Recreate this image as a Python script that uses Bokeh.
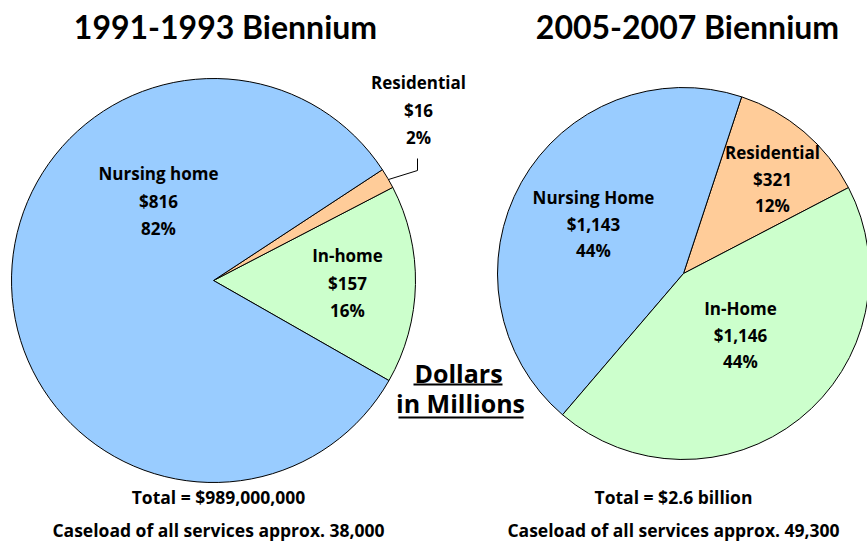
import math
from bokeh.plotting import figure
from bokeh.models import Range1d, ColumnDataSource
from bokeh.core.properties import value
from bokeh.embed import file_html
from bokeh.resources import INLINE

W, H = 867, 541
FONT = "Open Sans"
TFONT = "Lato"

# ---- data ----
cats_1991 = ["In-home", "Residential", "Nursing home"]
vals_1991 = [157, 16, 816]
pct_1991 = ["16%", "2%", "82%"]
cats_2005 = ["Residential", "Nursing Home", "In-Home"]
vals_2005 = [321, 1143, 1146]
pct_2005 = ["12%", "44%", "44%"]
colors = {"Nursing": "#99CCFF", "Residential": "#FFCC99", "In": "#CCFFCC"}

titles = ["1991-1993 Biennium", "2005-2007 Biennium"]
totals = ["Total = $989,000,000", "Total = $2.6 billion"]
caseloads = ["Caseload of all services approx. 38,000",
             "Caseload of all services approx. 49,300"]


def Y(py):
    return H - py


p = figure(width=W, height=H, output_backend="svg", toolbar_location=None,
           x_range=Range1d(0, W), y_range=Range1d(0, H), min_border=0)
p.axis.visible = False
p.grid.visible = False
p.outline_line_color = None
p.background_fill_color = "white"
p.border_fill_color = "white"


def color_for(c):
    for k, v in colors.items():
        if c.startswith(k):
            return v
    return "#cccccc"


def draw_pie(cx, cy, r, cats, vals, start_deg):
    total = float(sum(vals))
    starts, ends = [], []
    a = math.radians(start_deg)
    for v in vals:
        starts.append(a)
        a += v / total * 2 * math.pi
        ends.append(a)
    src = ColumnDataSource(dict(x=[cx] * len(vals), y=[Y(cy)] * len(vals),
                                start=starts, end=ends,
                                color=[color_for(c) for c in cats]))
    p.wedge(x="x", y="y", radius=r, start_angle="start", end_angle="end",
            fill_color="color", line_color="black", line_width=1, source=src)


# left pie: In-home starts at about -29.7 degrees
draw_pie(213, 280, 202, cats_1991, vals_1991, -29.7)
# right pie: Residential starts at about 27.5 degrees
draw_pie(683, 273, 186, cats_2005, vals_2005, 27.5)

# leader line for left Residential
p.line(x=[388, 417, 417], y=[Y(179), Y(170), Y(158)], line_color="black", line_width=1)


def txt(x, y, s, size, font=FONT):
    p.text(x=[x], y=[Y(y)], text=[s], text_font=value(font), text_font_size=f"{size}px",
           text_font_style="bold", text_align="center", text_baseline="middle",
           text_color="black")


# titles
txt(225, 26, titles[0], 32, TFONT)
txt(687, 26, titles[1], 32, TFONT)


def block(x, y0, lines, size=17, gap=27.5):
    for i, s in enumerate(lines):
        txt(x, y0 + i * gap, s, size)


# left labels
block(158, 173, [cats_1991[2], f"${vals_1991[2]:,}", pct_1991[2]])
block(347, 255, [cats_1991[0], f"${vals_1991[0]:,}", pct_1991[0]])
block(418, 82, [cats_1991[1], f"${vals_1991[1]:,}", pct_1991[1]])

# right labels
block(593, 197, [cats_2005[1], f"${vals_2005[1]:,}", pct_2005[1]], gap=26.5)
block(772, 152, [cats_2005[0], f"${vals_2005[0]:,}", pct_2005[0]], gap=26.5)
block(740, 308, [cats_2005[2], f"${vals_2005[2]:,}", pct_2005[2]], gap=26.5)

# Dollars in Millions (underlined)
txt(458, 372, "Dollars", 25)
txt(460, 402, "in Millions", 25)
p.line(x=[413, 502], y=[Y(384), Y(384)], line_color="black", line_width=2)
p.line(x=[398, 523], y=[Y(417), Y(417)], line_color="black", line_width=2)

# bottom notes
txt(218, 496, totals[0], 17.5)
txt(218, 529, caseloads[0], 17.5)
txt(673, 496, totals[1], 17.5)
txt(673, 529, caseloads[1], 17.5)

open("out.html", "w").write(file_html(p, INLINE))
